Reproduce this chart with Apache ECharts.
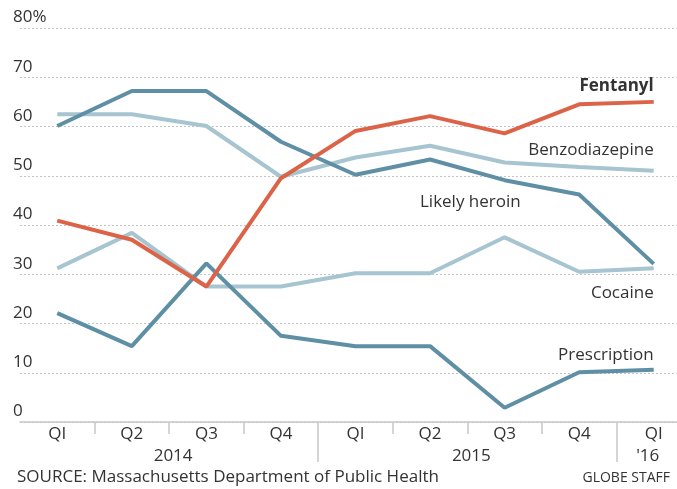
<!DOCTYPE html>
<html>
<head>
<meta charset="utf-8">
<script src="https://cdn.jsdelivr.net/npm/echarts@6/dist/echarts.min.js"></script>
<style>
html,body{margin:0;padding:0;background:#fff;overflow:hidden;width:677px;height:489px;}
#chart{width:700px;height:489px;}
</style>
</head>
<body>
<div id="chart"></div>
<script>
const categories = ['QI','Q2','Q3','Q4','QI','Q2','Q3','Q4','QI'];
const yearLabels = ['2014','2015',"'16"];
const fentanyl      = [40.9, 37.0, 27.5, 49.5, 59.1, 62.1, 58.6, 64.5, 65.0];
const benzodiazepine= [62.5, 62.5, 60.1, 49.8, 53.7, 56.1, 52.7, 51.8, 51.0];
const likelyHeroin  = [60.1, 67.2, 67.2, 56.9, 50.2, 53.3, 49.1, 46.2, 32.1];
const cocaine       = [31.2, 38.4, 27.5, 27.5, 30.2, 30.2, 37.5, 30.5, 31.2];
const prescription  = [22.1, 15.4, 32.2, 17.5, 15.4, 15.4, 2.9, 10.1, 10.6];

const FONT = '"Open Sans"';
const FS = 17;
const TXT = '#333';
const ORANGE = '#dc6347';
const DARK = '#5f8fa4';
const LIGHT = '#a6c5d0';

const chart = echarts.init(document.getElementById('chart'));

function line(name, data, color, z) {
  return {
    name, type: 'line', data, symbol: 'none', z: z,
    lineStyle: { color, width: 4 },
    itemStyle: { color },
    emphasis: { disabled: true },
    animation: false
  };
}

chart.setOption({
  animation: false,
  grid: { left: 20, top: 28, width: 671, height: 394, containLabel: false },
  xAxis: [{
    type: 'category', data: categories, boundaryGap: true,
    axisLine: { show: true, lineStyle: { color: '#c8c8c8', width: 1.5 } },
    axisTick: { show: true, length: 12, interval: (i) => i > 0, lineStyle: { color: '#c8c8c8', width: 1.5 } },
    axisLabel: { color: TXT, fontFamily: FONT, fontSize: FS, margin: 4, interval: 0 },
    splitLine: { show: false }
  }, {
    type: 'category', data: categories, boundaryGap: true, position: 'bottom',
    axisLine: { show: false },
    axisTick: { show: true, length: 40, interval: (i) => i === 4 || i === 8, lineStyle: { color: '#c8c8c8', width: 1.5 } },
    axisLabel: { show: false },
    splitLine: { show: false }
  }],
  yAxis: {
    type: 'value', min: 0, max: 80, interval: 10,
    axisLine: { show: false }, axisTick: { show: false },
    axisLabel: {
      inside: true, margin: -7, align: 'left', verticalAlign: 'bottom',
      color: TXT, fontFamily: FONT, fontSize: FS, padding: [0, 0, 2, 0],
      formatter: (v) => v === 80 ? '80%' : String(v)
    },
    splitLine: { show: true, lineStyle: { color: '#c4c4c4', width: 1, type: [2, 2] } }
  },
  series: [
    line('Cocaine', cocaine, LIGHT, 2),
    line('Benzodiazepine', benzodiazepine, LIGHT, 2),
    line('Prescription', prescription, DARK, 3),
    line('Likely heroin', likelyHeroin, DARK, 3),
    line('Fentanyl', fentanyl, ORANGE, 4)
  ]
});

const px = (x, y) => chart.convertToPixel({ gridIndex: 0 }, [x, y]);
const last = categories.length - 1;
const seriesLabels = [
  { text: 'Fentanyl', data: fentanyl, bold: true, dy: -16 },
  { text: 'Benzodiazepine', data: benzodiazepine, dy: -21 },
  { text: 'Cocaine', data: cocaine, dy: 25 },
  { text: 'Prescription', data: prescription, dy: -15 }
];
const graphics = [];
seriesLabels.forEach(l => {
  const p = px(last, l.data[last]);
  graphics.push({
    type: 'text', x: p[0], y: p[1] + l.dy, silent: true,
    style: { text: l.text, fill: TXT, font: (l.bold ? 'bold ' : '') + FS + 'px ' + FONT, textAlign: 'right', textVerticalAlign: 'middle' }
  });
});
// Likely heroin label placed between Q2 and Q3 2015
{
  const p = px(5, 44.7);
  const p2 = px(6, 44.7);
  graphics.push({
    type: 'text', x: (p[0] + p2[0]) / 2 + 3, y: p[1], silent: true,
    style: { text: 'Likely heroin', fill: TXT, font: FS + 'px ' + FONT, textAlign: 'center', textVerticalAlign: 'middle' }
  });
}
// Year labels
const yearPos = [[1, 2], [5, 6], [8, 8]];
const axisY = px(0, 0)[1];
yearLabels.forEach((t, i) => {
  const a = px(yearPos[i][0], 0)[0], b = px(yearPos[i][1], 0)[0];
  graphics.push({
    type: 'text', x: (a + b) / 2 + (i < 2 ? 4 : -6), y: axisY + 34, silent: true,
    style: { text: t, fill: TXT, font: FS + 'px ' + FONT, textAlign: 'center', textVerticalAlign: 'middle' }
  });
});
graphics.push({
  type: 'text', left: 17, top: 469, silent: true,
  style: { text: 'SOURCE: Massachusetts Department of Public Health', fill: TXT, font: FS + 'px ' + FONT }
});
graphics.push({
  type: 'text', right: 30, top: 471, silent: true,
  style: { text: 'GLOBE STAFF', fill: TXT, font: '14px ' + FONT }
});
chart.setOption({ graphic: graphics });
</script>
</body>
</html>
